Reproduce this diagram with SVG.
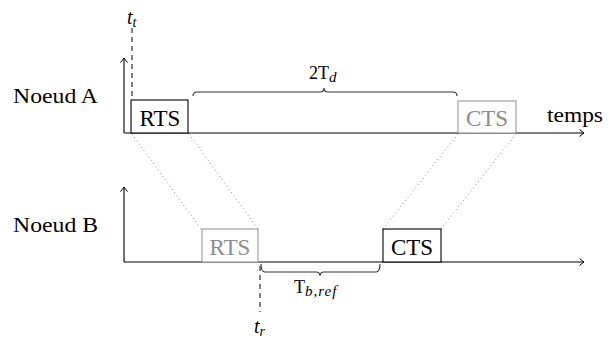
<svg xmlns="http://www.w3.org/2000/svg" width="608" height="344" viewBox="0 0 608 344">
<defs>
<marker id="arr" viewBox="-6 -4 8 8" markerWidth="8" markerHeight="8" refX="0" refY="0" orient="auto" markerUnits="userSpaceOnUse">
<path d="M-4.5,-3.5 Q-1.5,-1 0,0 Q-1.5,1 -4.5,3.5" fill="none" stroke="#000" stroke-width="1"/>
</marker>
<style>
.ax{stroke:#000;stroke-width:1.1;fill:none}
.box{fill:#fff;stroke:#000;stroke-width:1.1}
.gbox{fill:#fff;stroke:#999;stroke-width:1.1}
.lbl{font-family:"Liberation Serif",serif;font-size:23px;fill:#000}
.glbl{font-family:"Liberation Serif",serif;font-size:23px;fill:#8c8c8c}
.txt{font-family:"Liberation Serif",serif;font-size:20px;fill:#000}
.it{font-family:"Liberation Serif",serif;font-style:italic;fill:#000}
.rm{font-family:"Liberation Serif",serif;fill:#000}
.dot{stroke:#888;stroke-width:1;stroke-dasharray:1 3;fill:none}
.dash{stroke:#000;stroke-width:1;stroke-dasharray:5 4;fill:none}
.brace{stroke:#333;stroke-width:1.1;fill:none}
</style>
</defs>
<g id="connectors">
<path class="dot" d="M132,134 L201,229"/>
<path class="dot" d="M189,134 L258,229"/>
<path class="dot" d="M458,134 L383,229"/>
<path class="dot" d="M516,134 L441,229"/>
<path class="dash" d="M132,28 L132,100"/>
<path class="dash" d="M260,266 L260,312"/>
<path class="brace" d="M193,96 Q193,92 197,92 L320,92 Q324,92 324,88 Q324,92 328,92 L453,92 Q457,92 457,96"/>
<path class="brace" d="M261,264 Q261,272 265,272 L316,272 Q320,272 320,276 Q320,272 324,272 L376,272 Q380,272 380,264"/>
</g>
<g id="axisA">
<path class="ax" d="M124,133 L124,58" marker-end="url(#arr)"/>
<path class="ax" d="M124,133 L584,133" marker-end="url(#arr)"/>
<text class="txt" x="13" y="103" textLength="85" lengthAdjust="spacingAndGlyphs">Noeud A</text>
<text class="txt" x="547" y="122" textLength="56" lengthAdjust="spacingAndGlyphs">temps</text>
</g>
<g id="axisB">
<path class="ax" d="M124,262 L124,187" marker-end="url(#arr)"/>
<path class="ax" d="M124,262 L584,262" marker-end="url(#arr)"/>
<text class="txt" x="13" y="232" textLength="85" lengthAdjust="spacingAndGlyphs">Noeud B</text>
</g>
<g id="rtsA">
<rect class="box" x="131" y="100" width="57" height="33"/>
<text class="lbl" x="160" y="126" text-anchor="middle">RTS</text>
</g>
<g id="ctsA">
<rect class="gbox" x="458" y="101" width="58" height="32"/>
<text class="glbl" x="487" y="126" text-anchor="middle">CTS</text>
</g>
<g id="rtsB">
<rect class="gbox" x="202" y="229" width="56" height="33"/>
<text class="glbl" x="230" y="255" text-anchor="middle">RTS</text>
</g>
<g id="ctsB">
<rect class="box" x="383" y="229" width="58" height="33"/>
<text class="lbl" x="412" y="255" text-anchor="middle">CTS</text>
</g>
<g id="labels">
<text class="it" x="127" y="24" font-size="20">t<tspan font-size="14" dy="3">t</tspan></text>
<text class="it" x="254" y="333" font-size="20">t<tspan font-size="14" dy="3">r</tspan></text>
<text class="rm" x="309" y="79" font-size="18">2T<tspan class="it" font-size="15" dy="3">d</tspan></text>
<text class="rm" x="294" y="293" font-size="18">T<tspan class="it" font-size="15" dy="3" letter-spacing="1">b,ref</tspan></text>
</g>
</svg>
